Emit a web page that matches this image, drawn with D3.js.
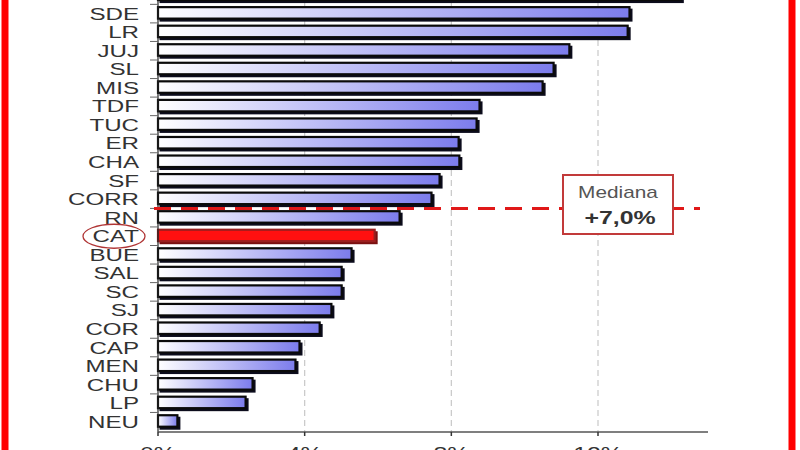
<!DOCTYPE html>
<html><head><meta charset="utf-8">
<script src="https://cdn.jsdelivr.net/npm/d3@7"></script>
<style>
html,body{margin:0;padding:0;background:#fff;overflow:hidden}
svg{display:block;font-family:"Liberation Sans",Arial,sans-serif}
</style></head>
<body>
<svg id="c" width="800" height="450"></svg>
<script>
const categories = ["FOR","SDE","LR","JUJ","SL","MIS","TDF","TUC","ER","CHA","SF","CORR","RN","CAT","BUE","SAL","SC","SJ","COR","CAP","MEN","CHU","LP","NEU"];
const values = [14.3,12.9,12.85,11.26,10.83,10.53,8.81,8.73,8.24,8.26,7.72,7.5,6.63,5.95,5.32,5.05,5.05,4.77,4.45,3.9,3.79,2.62,2.43,0.57];
const xTicks = [0,4,8,12];
const xTickLabels = ["0%","4%","8%","12%"];
const highlight = "CAT";
const medianLabel = "Mediana";
const medianValue = "+7,0%";
const medianBetween = ["CORR","RN"];

const svg = d3.select("#c");
const x = d3.scaleLinear().domain([0,15]).range([158,708]);
const y = d3.scaleBand().domain(categories).range([-14.2,431]).paddingInner(0.3).paddingOuter(0.15);
const bandTop = c => y(c) - y.step()*y.paddingInner()/2;

const defs = svg.append("defs");
const grad = defs.append("linearGradient").attr("id","g").attr("x1","0").attr("x2","1").attr("y1","0").attr("y2","0");
grad.append("stop").attr("offset","0").attr("stop-color","#ffffff");
grad.append("stop").attr("offset","1").attr("stop-color","#7c7cec");

// gridlines
svg.append("g").selectAll("line").data(xTicks.filter(d=>d>0)).join("line")
  .attr("x1",d=>x(d)).attr("x2",d=>x(d)).attr("y1",0).attr("y2",432)
  .attr("stroke","#c8c8c8").attr("stroke-width",1.2).attr("stroke-dasharray","6,4");

// bars
const bars = svg.append("g");
const data = categories.map((c,i)=>({c, v: values[i]}));
bars.selectAll("rect.sh").data(data).join("rect").attr("class","sh")
  .attr("x",x(0)+1.5).attr("y",d=>y(d.c)+1.5)
  .attr("width",d=>x(d.v)-x(0)).attr("height",y.bandwidth())
  .attr("fill",d=>d.c===highlight?"#7a1010":"#0c0c1c");
bars.selectAll("rect.b").data(data).join("rect").attr("class","b")
  .attr("x",x(0)).attr("y",d=>y(d.c))
  .attr("width",d=>x(d.v)-x(0)-1.5).attr("height",y.bandwidth()-1.5)
  .attr("fill",d=>d.c===highlight?"#ff1010":"url(#g)")
  .attr("stroke",d=>d.c===highlight?"#9a2020":"#0a0a0a")
  .attr("stroke-width",2.2);

// y axis
svg.append("line").attr("x1",158).attr("x2",158).attr("y1",-14).attr("y2",432).attr("stroke","#222").attr("stroke-width",1.2);
svg.append("g").selectAll("line").data(categories).join("line")
  .attr("x1",150).attr("x2",158).attr("y1",d=>bandTop(d)).attr("y2",d=>bandTop(d))
  .attr("stroke","#666").attr("stroke-width",1);
svg.append("g").selectAll("text").data(categories.filter(c=>y(c)>0)).join("text")
  .attr("transform",d=>`translate(139,${y(d)+y.bandwidth()/2+6}) scale(1.42,1)`)
  .attr("text-anchor","end").attr("font-size",17).attr("fill","#333").text(d=>d);

// highlight ellipse
svg.append("ellipse").attr("cx",114).attr("cy",y(highlight)+y.bandwidth()/2).attr("rx",31).attr("ry",12)
  .attr("fill","none").attr("stroke","#b03535").attr("stroke-width",1.3);

// x axis
const xa = svg.append("g").attr("transform","translate(0,432)");
xa.append("line").attr("x1",x(0)).attr("x2",x(15)).attr("stroke","#555").attr("stroke-width",1.5);
xa.selectAll("line.t").data(xTicks).join("line").attr("class","t")
  .attr("x1",d=>x(d)).attr("x2",d=>x(d)).attr("y1",0).attr("y2",4).attr("stroke","#333").attr("stroke-width",1.5);
xa.selectAll("text").data(xTicks).join("text")
  .attr("transform",(d,i)=>`translate(${x(d)},28) scale(1.38,1)`)
  .attr("text-anchor","middle").attr("font-size",18).attr("fill","#333").text((d,i)=>xTickLabels[i]);

// median line
const my = bandTop(medianBetween[1]);
svg.append("line").attr("x1",154).attr("x2",700).attr("y1",my).attr("y2",my)
  .attr("stroke","#e01818").attr("stroke-width",3).attr("stroke-dasharray","17,10");
const box = svg.append("g");
box.append("rect").attr("x",563).attr("y",175).attr("width",110).attr("height",59)
  .attr("fill","#fff").attr("stroke","#c23a3a").attr("stroke-width",2);
box.append("text").attr("transform","translate(618,198) scale(1.3,1)").attr("text-anchor","middle")
  .attr("font-size",16).attr("fill","#555").text(medianLabel);
box.append("text").attr("transform","translate(620,224) scale(1.38,1)").attr("text-anchor","middle")
  .attr("font-size",18).attr("font-weight","bold").attr("fill","#333").text(medianValue);

// red frame sides
svg.append("rect").attr("x",1.5).attr("y",-5).attr("width",7).attr("height",460).attr("fill","#f00");
svg.append("rect").attr("x",788.5).attr("y",-5).attr("width",7).attr("height",460).attr("fill","#f00");
</script>
</body></html>
